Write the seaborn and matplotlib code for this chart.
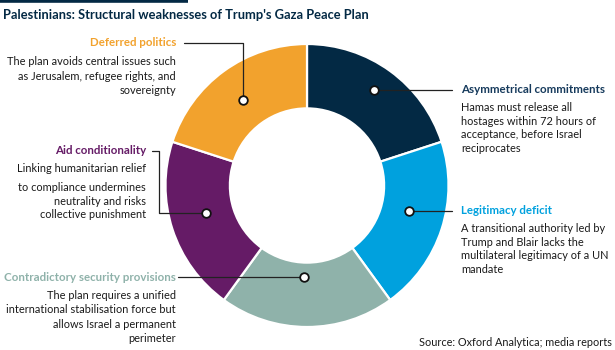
import numpy as np
import matplotlib
matplotlib.use("Agg")
from matplotlib import pyplot as plt
import seaborn as sns

# slices, clockwise from 12 o'clock
categories = ["Asymmetrical commitments", "Legitimacy deficit",
              "Contradictory security provisions", "Aid conditionality",
              "Deferred politics"]
shares = [20, 20, 20, 20, 20]
descriptions = [
    ["Hamas must release all", "hostages within 72 hours of",
     "acceptance, before Israel", "reciprocates"],
    ["A transitional authority led by", "Trump and Blair lacks the",
     "multilateral legitimacy of a UN", "mandate"],
    ["The plan requires a unified", "international stabilisation force but",
     "allows Israel a permanent", "perimeter"],
    ["Linking humanitarian relief", "to compliance undermines",
     "neutrality and risks", "collective punishment"],
    ["The plan avoids central issues such", "as Jerusalem, refugee rights, and",
     "sovereignty"],
]
title = "Palestinians: Structural weaknesses of Trump's Gaza Peace Plan"
source = "Source: Oxford Analytica; media reports"

colors = ["#032944", "#00a1de", "#8fb2aa", "#651b66", "#f2a22d"]
label_colors = ["#163a5c", "#00a1de", "#8fb2aa", "#651b66", "#f2a22d"]
navy = "#032944"
text_dark = "#1a1a1a"

sns.set_theme(style="white")
plt.rcParams["font.family"] = ["Lato", "DejaVu Sans"]

W, H = 615, 350
fig = plt.figure(figsize=(W / 100, H / 100), dpi=100)

# donut geometry in pixels
cx, cy, R = 307, 185.5, 141.5
ax = fig.add_axes([(cx - R) / W, (H - cy - R) / H, 2 * R / W, 2 * R / H])
ax.pie(shares, colors=sns.color_palette(colors), startangle=90, counterclock=False,
       radius=1, wedgeprops=dict(width=0.455, edgecolor="white", linewidth=1.6))
ax.set_xlim(-1, 1)
ax.set_ylim(-1, 1)
ax.set_aspect("equal")
ax.axis("off")

# overlay in pixel coords (y down)
ov = fig.add_axes([0, 0, 1, 1])
ov.set_xlim(0, W)
ov.set_ylim(H, 0)
ov.axis("off")

ov.plot([0, 188], [1.2, 1.2], color=navy, lw=2.6, solid_capstyle="butt")
ov.text(3, 15, title, fontsize=9.3, fontweight="bold", color=navy, va="center", ha="left")
ov.text(612, 342, source, fontsize=7.85, color=text_dark, va="center", ha="right")

# annotation layout: dot angle (deg clockwise from top) and radius (px)
dot_angle = [35, 104, 182, 255, 323]
dot_rad = [117, 105, 92, 105, 107]
line_col = "#222222"

def dot_xy(i):
    a = np.deg2rad(dot_angle[i])
    return cx + dot_rad[i] * np.sin(a), cy - dot_rad[i] * np.cos(a)

def body(lines, x, ys, ha):
    for s, y in zip(lines, ys):
        ov.text(x, y, s, fontsize=7.9, color=text_dark, ha=ha, va="center")

def label(i, x, y, ha):
    ov.text(x, y, categories[i], fontsize=8.3, fontweight="bold", color=label_colors[i],
            ha=ha, va="center")

# right side
for i in (0, 1):
    dx, dy = dot_xy(i)
    ov.plot([dx, 452], [dy, dy], color=line_col, lw=0.9)
    label(i, 461, dy, "left")
    body(descriptions[i], 461, [dy + 18 + k * 13.5 for k in range(4)], "left")

# contradictory security provisions
dx, dy = dot_xy(2)
ov.plot([dx, 178], [dy, dy], color=line_col, lw=0.9)
label(2, 176, dy, "right")
body(descriptions[2], 176, [dy + 18 + k * 14.3 for k in range(4)], "right")

# aid conditionality
dx, dy = dot_xy(3)
ov.plot([dx, 159, 159, 152], [dy, dy, 150.7, 150.7], color=line_col, lw=0.9)
label(3, 146, 150.7, "right")
body(descriptions[3], 146, [168.3, 187.7, 201.1, 214.5], "right")

# deferred politics
dx, dy = dot_xy(4)
ov.plot([dx, dx, 184], [dy, 43, 43], color=line_col, lw=0.9)
label(4, 176, 43, "right")
body(descriptions[4], 176, [61.7, 76.5, 91], "right")

for i in range(5):
    dx, dy = dot_xy(i)
    ov.plot(dx, dy, "o", ms=6.2, mfc="white", mec="#111111", mew=1.3, zorder=5)

fig.savefig("out.png", dpi=100)
